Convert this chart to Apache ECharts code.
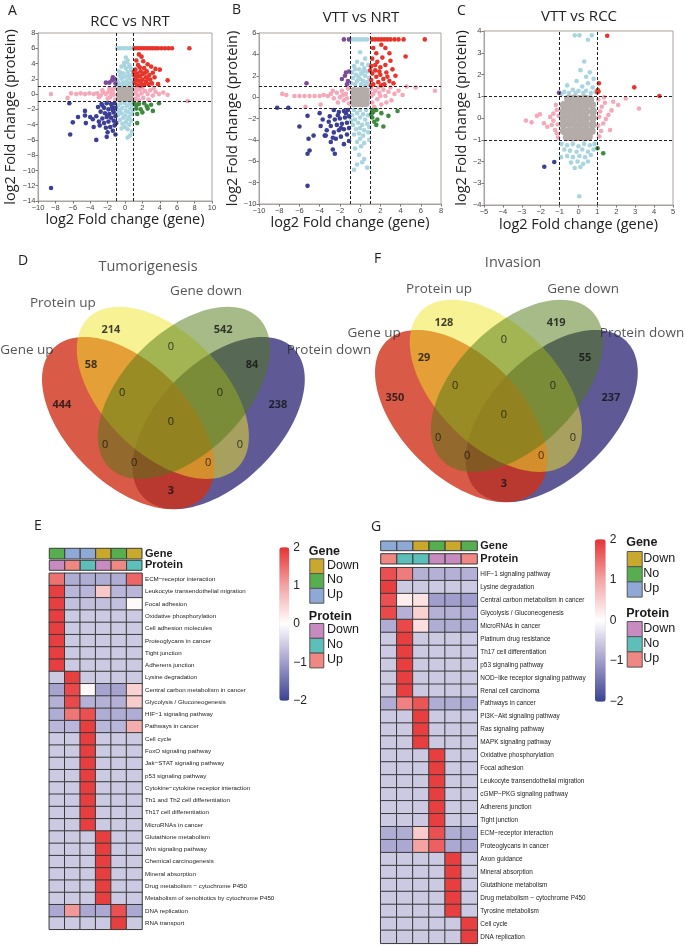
<!DOCTYPE html>
<html><head><meta charset="utf-8">
<script src="https://cdn.jsdelivr.net/npm/echarts@6/dist/echarts.min.js"></script>
<style>html,body{margin:0;padding:0;background:#fff}#c{width:685px;height:946px}</style>
</head><body><div id="c"></div>
<script>
// ---------------- Scatter data (log2 FC gene, log2 FC protein) ----------------
const A_red = [[1.1,6],[1.4,6],[1.7,6],[2.0,6],[2.3,6],[2.6,6],[2.9,6],[3.2,6],[3.5,6],[3.8,6],[4.2,6],[4.6,6],[5.0,6],[5.4,6],[7.4,6],
 [1.6,5.2],[1.9,4.9],[1.3,4.4],[2.1,4.3],[2.6,3.9],[1.5,3.8],[3.0,3.6],[3.5,3.3],[2.2,3.4],[1.2,3.2],[4.0,3.2],[1.8,3.0],[2.5,3.0],[3.2,2.8],[1.4,2.7],[2.0,2.6],[2.8,2.5],[1.1,2.4],[1.7,2.3],[2.4,2.2],[3.4,2.2],[1.3,2.0],[2.0,1.9],[2.9,1.9],[4.9,1.8],[1.6,1.7],[2.4,1.6],[1.1,1.5],[1.9,1.4],[3.1,1.4],[1.4,1.2],[2.2,1.2],[2.7,1.3],[1.2,1.8],[1.8,1.1],[3.8,1.3],[1.5,2.4],[2.6,2.0],[1.0,2.9],[2.3,2.8],[1.7,3.5]];
const A_lightblue = [[-0.9,6],[-0.6,6],[-0.3,6],[0,6],[0.3,6],[0.6,6],[0.9,6],
 [0.1,4.8],[0.3,4.4],[-0.1,4.1],[0.5,3.8],[-0.4,3.6],[0.1,3.4],[0.7,3.2],[-0.7,3.0],[0.3,2.9],[-0.2,2.7],[0.8,2.5],[-0.6,2.4],[0.1,2.3],[0.5,2.1],[-0.4,2.0],[-0.9,1.8],[0.9,1.8],[0.2,1.7],[-0.2,1.5],[0.6,1.5],[-0.7,1.4],[0.3,1.3],[-0.4,1.2],[0.8,1.2],[0.0,1.1],[-0.9,1.1],[0.5,1.1],[-0.2,2.2],[0.4,2.6],[-0.5,2.8],[0.6,3.5],[-0.1,3.8],[0.2,4.2],
 [0.0,-1.2],[-0.5,-1.2],[0.5,-1.3],[-0.8,-1.5],[0.8,-1.5],[0.2,-1.6],[-0.3,-1.8],[0.6,-1.9],[-0.6,-2.1],[0.1,-2.2],[0.4,-2.4],[-0.4,-2.5],[0.8,-2.6],[-0.8,-2.7],[0.0,-2.8],[0.5,-3.0],[-0.2,-3.1],[0.3,-3.3],[-0.6,-3.4],[0.7,-3.5],[0.1,-3.7],[-0.3,-3.9],[0.5,-4.0],[0.0,-4.3],[0.3,-4.6],[-0.4,-4.5],[0.7,-1.1],[-0.9,-2.3],[0.9,-2.1],[0.3,-5.7],[0.6,-5.4],[0.8,-4.9]];
const A_pink = [[-8.5,0],[-6.6,-0.5],[-6.2,0.1],[-5.6,0],[-5.1,0.1],[-4.6,0],[-4.1,0.1],[-3.6,0],[-3.2,0.1],[-2.8,-0.2],[-2.5,0.2],[-2.2,0],[-1.9,0.3],[-1.7,-0.4],[-1.5,0.6],[-1.3,-0.1],[-1.2,0.8],[-1.1,-0.7],[-1.4,0.3],[-2.0,-0.6],[-2.6,0.5],[-1.6,0.1],[-3.0,-0.4],[-1.8,0.7],
 [1.1,0.8],[1.3,0.4],[1.2,-0.6],[1.5,-0.2],[1.7,0.6],[1.9,0.1],[2.1,-0.5],[2.3,0.4],[2.6,0],[2.9,0.5],[3.2,-0.2],[3.5,0.3],[3.9,0],[4.4,0.2],[4.9,-0.1],[1.4,0.9],[1.6,-0.8],[2.0,0.8],[2.7,-0.7],[3.3,0.8],[1.2,0.1],[7.2,-0.9]];
const A_grey = [[-0.65,0.6],[-0.2,0.62],[0.25,0.58],[0.66,0.63],[-0.62,0.15],[-0.18,0.2],[0.22,0.12],[0.64,0.18],[-0.66,-0.28],[-0.2,-0.22],[0.26,-0.3],[0.62,-0.25],[-0.63,-0.62],[-0.22,-0.6],[0.2,-0.65],[0.65,-0.6],[0.0,0.4],[0.02,-0.45],[-0.42,0.0],[0.45,-0.05]];
const A_navy = [[-1.2,-1.2],[-1.6,-1.3],[-2.1,-1.2],[-2.7,-1.3],[-1.1,-1.8],[-1.5,-1.7],[-1.9,-2.0],[-2.4,-1.8],[-3.1,-1.7],[-1.3,-2.4],[-1.8,-2.6],[-2.3,-2.5],[-2.8,-2.3],[-1.1,-2.9],[-1.6,-3.1],[-2.1,-3.0],[-2.6,-3.2],[-3.3,-2.9],[-1.3,-3.5],[-1.9,-3.6],[-2.4,-3.8],[-3.0,-3.6],[-3.7,-3.3],[-1.2,-4.1],[-1.7,-4.3],[-2.2,-4.4],[-2.9,-4.1],[-1.4,-4.8],[-2.0,-5.0],[-1.1,-5.3],[-2.6,-1.5],[-1.4,-2.1],[-2.0,-2.8],[-1.0,-3.8],[-4.5,-3.8],[-4.0,-3.0],[-3.6,-4.3],[-2.1,-5.6],
 [-6.4,-1.2],[-4.6,-2.2],[-6.0,-3.7],[-6.3,-5.3],[-3.3,-6.0],[-8.5,-12.3],[-4.6,-2.8],[-5.4,-3.0]];
const A_purple = [[-1.2,2.0],[-1.4,2.2],[-1.5,1.8],[-1.8,1.5],[-1.1,1.4],[-2.2,1.5]];
const A_green = [[1.1,-1.2],[1.3,-1.5],[1.6,-1.3],[1.3,-1.9],[1.8,-2.0],[2.5,-1.6],[2.6,-1.9],[3.0,-1.4],[3.2,-2.2],[2.0,-2.4],[1.4,-2.6],[3.9,-1.2],[1.4,-3.8],[2.2,-1.2]];

const B_red = [[1.2,5.4],[1.5,5.4],[1.8,5.4],[2.1,5.4],[2.4,5.4],[2.7,5.4],[3.0,5.4],[3.4,5.4],[3.8,5.4],[4.3,5.4],[6.4,5.4],
 [2.1,4.9],[1.3,4.6],[2.5,4.6],[1.6,4.1],[2.9,4.1],[4.5,3.8],[2.2,3.7],[1.2,3.6],[3.0,3.4],[1.7,3.3],[2.5,3.0],[1.1,2.9],[2.0,2.8],[3.2,2.6],[1.5,2.5],[2.6,2.3],[1.2,2.2],[2.0,2.1],[3.5,2.0],[1.6,1.9],[2.3,1.7],[1.1,1.6],[2.9,1.5],[1.8,1.4],[1.3,1.2],[2.4,1.2],[3.3,1.3],[1.0,2.5],[1.5,3.0],[2.7,1.9],[1.9,2.4],[1.1,1.1],[2.1,1.1]];
const B_lightblue = [[-0.8,5.4],[-0.5,5.4],[-0.2,5.4],[0.1,5.4],[0.4,5.4],[0.7,5.4],
 [0.0,4.2],[0.5,3.6],[-0.3,3.3],[0.2,3.1],[0.8,3.0],[-0.6,2.9],[0.4,2.7],[-0.1,2.6],[0.7,2.4],[-0.8,2.3],[0.1,2.2],[-0.4,2.1],[0.5,2.0],[0.9,1.8],[-0.7,1.8],[0.0,1.7],[0.3,1.5],[-0.3,1.5],[0.7,1.4],[-0.9,1.3],[0.1,1.2],[-0.5,1.2],[0.5,1.1],[0.9,1.1],[-0.2,1.9],[0.3,2.4],[-0.5,2.6],
 [0.0,-1.2],[-0.6,-1.2],[0.6,-1.2],[-0.3,-1.5],[0.3,-1.6],[0.8,-1.7],[-0.8,-1.7],[0.0,-1.9],[-0.5,-2.1],[0.5,-2.1],[-0.2,-2.4],[0.2,-2.6],[0.7,-2.5],[-0.7,-2.6],[0.0,-2.9],[-0.4,-3.0],[0.4,-3.1],[0.8,-3.3],[-0.1,-3.4],[-0.6,-3.5],[0.3,-3.6],[0.0,-3.9],[-0.3,-4.2],[0.4,-4.3],[0.9,-4.0],[-0.5,-4.8],[0.1,-4.6],[-0.1,-5.4],[0.4,-5.8],[-0.3,-6.3],[0.2,-6.1],[-0.6,-6.8],[0.7,-6.6],[-0.9,-2.2],[0.9,-2.8]];
const B_pink = [[-7.7,0.3],[-7.3,0.2],[-6.5,0.1],[-6.0,0.1],[-5.5,0.1],[-5.0,0.1],[-4.5,0.1],[-4.0,0.1],[-3.6,0.2],[-3.2,0.1],[-2.9,0.3],[-2.6,-0.1],[-2.3,0.4],[-2.0,0.0],[-1.8,0.6],[-1.6,-0.3],[-1.4,0.3],[-1.2,0.8],[-1.1,-0.6],[-1.3,-0.1],[-1.7,0.2],[-2.2,-0.5],[-3.9,-0.7],[-5.4,-0.9],[-2.7,0.6],
 [1.1,0.8],[1.3,0.3],[1.2,-0.5],[1.5,0.6],[1.7,-0.2],[1.9,0.4],[2.1,-0.7],[2.3,0.7],[2.5,0.1],[2.8,0.5],[3.1,-0.3],[3.4,0.3],[3.8,0.6],[4.2,0.2],[4.6,1.0],[5.5,0.9],[7.4,0.6],[1.4,-0.9],[1.8,0.9],[2.6,-0.5],[3.0,0.9],[1.1,0.1],[2.0,0.1]];
const B_grey = [[-0.62,0.62],[-0.2,0.6],[0.22,0.64],[0.6,0.6],[-0.6,0.2],[-0.22,0.18],[0.2,0.22],[0.63,0.2],[-0.63,-0.22],[-0.18,-0.2],[0.2,-0.18],[0.62,-0.22],[-0.6,-0.62],[-0.2,-0.6],[0.22,-0.63],[0.6,-0.6],[0.0,0.0],[-0.4,0.42],[0.4,-0.4]];
const B_navy = [[-1.2,-1.2],[-1.6,-1.3],[-2.1,-1.4],[-2.6,-1.2],[-1.1,-1.8],[-1.5,-1.9],[-2.0,-2.0],[-2.5,-2.1],[-3.0,-1.8],[-1.3,-2.4],[-1.8,-2.5],[-2.3,-2.6],[-2.9,-2.7],[-1.1,-2.9],[-1.6,-3.0],[-2.1,-3.1],[-2.6,-3.3],[-3.3,-3.1],[-1.3,-3.5],[-1.9,-3.7],[-2.4,-3.9],[-1.1,-4.1],[-2.9,-4.2],[-1.6,-4.4],[-3.5,-3.6],[-1.4,-1.5],[-2.2,-1.7],[-1.9,-2.9],[-3.1,-2.3],[-2.7,-3.8],
 [-8.2,-1.0],[-7.1,-1.0],[-5.2,-1.75],[-4.0,-1.5],[-6.0,-2.75],[-3.9,-2.7],[-4.6,-3.6],[-3.4,-3.6],[-5.1,-3.9],[-5.0,-5.0],[-5.2,-5.3],[-2.7,-4.9],[-2.5,-5.3],[-5.2,-8.3],[-3.7,-2.1]];
const B_purple = [[-1.6,5.4],[-1.1,5.4],[-5.3,1.3],[-1.2,1.5],[-1.5,2.0],[-1.1,2.4],[-1.8,1.7],[-1.3,1.2],[-1.4,2.3]];
const B_green = [[1.2,-1.2],[1.3,-1.4],[1.2,-1.9],[1.6,-1.2],[2.1,-1.5],[2.8,-1.75],[3.7,-1.3],[1.6,-2.6],[2.3,-2.75],[1.7,-2.1],[1.1,-1.6],[1.4,-2.3]];

const C_red = [[1.52,3.78],[1.08,1.6],[1.02,1.28],[1.0,1.18],[1.06,1.22],[2.95,1.41],[4.28,1.01]];
const C_lightblue = [[-0.2,3.8],[0.05,3.8],[0.7,3.8],[0.5,3.6],[0.3,2.6],[0.1,2.2],[0.6,2.1],[0.4,1.9],[0.8,1.8],[-0.1,1.7],[0.5,1.6],[-0.6,1.5],[0.2,1.45],[0.75,1.4],[-0.3,1.3],[0.0,1.25],[0.4,1.25],[-0.75,1.2],[-0.5,1.15],[0.65,1.15],[0.9,1.2],[-0.15,1.15],[0.25,1.15],[-0.9,1.1],
 [-0.9,-1.2],[-0.6,-1.25],[-0.3,-1.2],[0.0,-1.3],[0.3,-1.2],[0.6,-1.25],[0.85,-1.2],[-0.75,-1.45],[-0.45,-1.5],[-0.1,-1.55],[0.2,-1.45],[0.5,-1.55],[0.8,-1.45],[-0.6,-1.75],[-0.3,-1.8],[0.05,-1.75],[0.35,-1.8],[0.65,-1.7],[-0.4,-2.05],[-0.05,-2.0],[0.25,-2.1],[0.5,-2.0],[-0.2,-2.3],[0.1,-2.25],[0.04,-3.6],[-0.93,-1.8]];
const C_pink = [[-2.78,-0.12],[-2.48,-0.2],[-2.2,0.1],[-2.04,0.17],[-1.83,-0.24],[-1.65,-0.4],[-1.42,-0.32],[-1.33,-0.12],[-1.24,-0.55],[-1.15,-0.7],[-1.33,0.2],[-1.15,0.37],[-1.5,0.05],[-1.1,-0.3],[-1.05,0.1],[-1.2,0.6],[-1.08,-0.9],
 [1.1,0.06],[1.23,0.52],[1.58,0.14],[1.67,-0.55],[1.31,-0.25],[1.84,0.75],[3.2,0.44],[1.05,0.85],[1.15,0.3],[1.4,0.7],[1.45,-0.05],[1.2,-0.6],[1.05,-0.35],[1.75,0.35],[2.1,0.6],[1.35,0.95],[1.1,-0.85],[2.5,0.9]];
const C_grey = [[-0.55,0.88],[-0.25,0.9],[0.05,0.87],[0.35,0.9],[0.62,0.86],
 [-0.78,0.6],[-0.5,0.62],[-0.2,0.58],[0.1,0.61],[0.4,0.59],[0.72,0.6],
 [-0.8,0.3],[-0.5,0.32],[-0.2,0.28],[0.1,0.31],[0.4,0.29],[0.76,0.3],
 [-0.82,0.0],[-0.52,0.02],[-0.22,-0.01],[0.08,0.01],[0.38,-0.02],[0.76,0.0],
 [-0.8,-0.3],[-0.5,-0.28],[-0.2,-0.31],[0.1,-0.29],[0.4,-0.3],[0.74,-0.3],
 [-0.78,-0.6],[-0.48,-0.61],[-0.18,-0.58],[0.12,-0.6],[0.42,-0.62],[0.7,-0.6],
 [-0.62,-0.88],[-0.32,-0.9],[-0.02,-0.87],[0.28,-0.9],[0.55,-0.86]];
const C_purple = [[-1.03,1.16]];
const C_navy = [[-1.81,-2.24],[-1.28,-2.02]];
const C_green = [[1.01,-1.39],[1.31,-1.62]];

const thresholds = [-1, 1];
const scatterTitles = ['RCC vs NRT', 'VTT vs NRT', 'VTT vs RCC'];
const xTitle = 'log2 Fold change (gene)';
const yTitle = 'log2 Fold change (protein)';

// ---------------- Venn data ----------------
const setNames = ['Gene up', 'Protein up', 'Gene down', 'Protein down'];
const vennTitles = ['Tumorigenesis', 'Invasion'];
const D_counts = [214, 542, 0, 58, 84, 444, 238, 0, 0, 0, 0, 0, 0, 0, 3];
const F_counts = [128, 419, 0, 29, 55, 350, 237, 0, 0, 0, 0, 0, 0, 0, 3];

// ---------------- Heatmap data ----------------
const E_rows = ["ECM−receptor interaction","Leukocyte transendothelial migration","Focal adhesion","Oxidative phosphorylation","Cell adhesion molecules","Proteoglycans in cancer","Tight junction","Adherens junction","Lysine degradation","Central carbon metabolism in cancer","Glycolysis / Gluconeogenesis","HIF−1 signaling pathway","Pathways in cancer","Cell cycle","FoxO signaling pathway","Jak−STAT signaling pathway","p53 signaling pathway","Cytokine−cytokine receptor interaction","Th1 and Th2 cell differentiation","Th17 cell differentiation","MicroRNAs in cancer","Glutathione metabolism","Wnt signaling pathway","Chemical carcinogenesis","Mineral absorption","Drug metabolism − cytochrome P450","Metabolism of xenobiotics by cytochrome P450","DNA replication","RNA transport"];
const E_gene = ['No','Up','Up','Down','No','Down'];
const E_protein = ['Down','Up','No','Down','Up','No'];
const E_values = [
 [1.45,-0.85,-0.85,-0.85,-0.85,1.55],
 [1.9,-0.75,-0.75,0.6,-0.75,-0.75],
 [1.9,-0.65,-0.65,-0.65,-0.65,0.05],
 [1.9,-0.55,-0.55,-0.55,-0.55,-0.55],
 [1.9,-0.55,-0.55,-0.55,-0.55,-0.55],
 [1.9,-0.55,-0.55,-0.55,-0.55,-0.55],
 [1.9,-0.55,-0.55,-0.55,-0.55,-0.55],
 [1.9,-0.55,-0.55,-0.55,-0.55,-0.55],
 [-0.55,1.9,-0.55,-0.55,-0.55,-0.55],
 [-0.95,1.8,0.08,-0.95,-0.95,0.5],
 [-0.8,1.8,-0.8,-0.8,-0.8,0.55],
 [-0.85,1.4,1.75,-0.85,-0.85,-0.85],
 [-0.75,-0.75,1.9,-0.75,-0.75,0.9],
 [-0.55,-0.55,1.9,-0.55,-0.55,-0.55],
 [-0.55,-0.55,1.9,-0.55,-0.55,-0.55],
 [-0.55,-0.55,1.9,-0.55,-0.55,-0.55],
 [-0.55,-0.55,1.9,-0.55,-0.55,-0.55],
 [-0.55,-0.55,1.9,-0.55,-0.55,-0.55],
 [-0.55,-0.55,1.9,-0.55,-0.55,-0.55],
 [-0.55,-0.55,1.9,-0.55,-0.55,-0.55],
 [-0.55,-0.55,1.9,-0.55,-0.55,-0.55],
 [-0.55,-0.55,-0.55,1.9,-0.55,-0.55],
 [-0.55,-0.55,-0.55,1.9,-0.55,-0.55],
 [-0.55,-0.55,-0.55,1.9,-0.55,-0.55],
 [-0.55,-0.55,-0.55,1.9,-0.55,-0.55],
 [-0.55,-0.55,-0.55,1.9,-0.55,-0.55],
 [-0.55,-0.55,-0.55,1.9,-0.55,-0.55],
 [-0.9,1.1,-0.9,-0.9,1.75,-0.9],
 [-0.55,-0.55,-0.55,-0.55,1.9,-0.55]
];
const G_rows = ["HIF−1 signaling pathway","Lysine degradation","Central carbon metabolism in cancer","Glycolysis / Gluconeogenesis","MicroRNAs in cancer","Platinum drug resistance","Th17 cell differentiation","p53 signaling pathway","NOD−like receptor signaling pathway","Renal cell carcinoma","Pathways in cancer","PI3K−Akt signaling pathway","Ras signaling pathway","MAPK signaling pathway","Oxidative phosphorylation","Focal adhesion","Leukocyte transendothelial migration","cGMP−PKG signaling pathway","Adherens junction","Tight junction","ECM−receptor interaction","Proteoglycans in cancer","Axon guidance","Mineral absorption","Glutathione metabolism","Drug metabolism − cytochrome P450","Tyrosine metabolism","Cell cycle","DNA replication"];
const G_gene = ['Up','Up','Down','No','Down','No'];
const G_protein = ['Up','No','No','Down','Down','Up'];
const G_values = [
 [1.75,1.35,-0.8,-0.8,-0.8,-0.8],
 [1.9,-0.55,-0.55,-0.55,-0.55,-0.55],
 [1.75,0.2,0.3,-1.0,-1.0,-1.0],
 [1.8,-0.8,0.5,-0.8,-0.8,-0.8],
 [-0.85,1.8,0.35,-0.85,-0.85,-0.85],
 [-0.55,1.9,-0.55,-0.55,-0.55,-0.55],
 [-0.55,1.9,-0.55,-0.55,-0.55,-0.55],
 [-0.55,1.9,-0.55,-0.55,-0.55,-0.55],
 [-0.55,1.9,-0.55,-0.55,-0.55,-0.55],
 [-0.55,1.9,-0.55,-0.55,-0.55,-0.55],
 [-0.85,1.3,1.7,-0.85,-0.85,-0.85],
 [-0.55,-0.55,1.9,-0.55,-0.55,-0.55],
 [-0.55,-0.55,1.9,-0.55,-0.55,-0.55],
 [-0.55,-0.55,1.9,-0.55,-0.55,-0.55],
 [-0.55,-0.55,-0.55,1.9,-0.55,-0.55],
 [-0.55,-0.55,-0.55,1.9,-0.55,-0.55],
 [-0.55,-0.55,-0.55,1.9,-0.55,-0.55],
 [-0.55,-0.55,-0.55,1.9,-0.55,-0.55],
 [-0.55,-0.55,-0.55,1.9,-0.55,-0.55],
 [-0.55,-0.55,-0.55,1.9,-0.55,-0.55],
 [-0.85,-0.85,0.55,1.75,-0.85,-0.85],
 [-0.9,-0.9,1.0,1.6,-0.9,-0.9],
 [-0.55,-0.55,-0.55,-0.55,1.9,-0.55],
 [-0.55,-0.55,-0.55,-0.55,1.9,-0.55],
 [-0.55,-0.55,-0.55,-0.55,1.9,-0.55],
 [-0.55,-0.55,-0.55,-0.55,1.9,-0.55],
 [-0.55,-0.55,-0.55,-0.55,1.9,-0.55],
 [-0.55,-0.55,-0.55,-0.55,-0.55,1.9],
 [-0.55,-0.55,-0.55,-0.55,-0.55,1.9]
];
const levels = ['Down','No','Up'];
const colorbarTicks = [-2, -1, 0, 1, 2];

// ---------------- Styles / layout ----------------
const FONT = 'Open Sans';
const AFONT = 'Liberation Sans';
const groupStyle = {
  pink:{color:'#f5a8b9', size:4.6}, lightblue:{color:'#a9d5e0', size:4.6}, grey:{color:'#b4aca9', size:6},
  navy:{color:'#3b3f95', size:4.6}, purple:{color:'#7b4b9c', size:4.6}, green:{color:'#3f8b3d', size:4.6}, red:{color:'#e8352b', size:4.6}
};
const groupOrder = ['pink','lightblue','grey','navy','purple','green','red'];
const plots = [
  {groups:{pink:A_pink,lightblue:A_lightblue,grey:A_grey,navy:A_navy,purple:A_purple,green:A_green,red:A_red},
   grid:{left:38,top:33,width:174,height:168}, x:[-10,10,2], y:[-14,8,2], greySize:6, xGap:11, yGap:20},
  {groups:{pink:B_pink,lightblue:B_lightblue,grey:B_grey,navy:B_navy,purple:B_purple,green:B_green,red:B_red},
   grid:{left:259,top:33,width:182,height:171}, x:[-10,8,2], y:[-10,6,2], greySize:7, xGap:11, yGap:16},
  {groups:{pink:C_pink,lightblue:C_lightblue,grey:C_grey,navy:C_navy,purple:C_purple,green:C_green,red:C_red},
   grid:{left:484,top:31,width:189,height:174}, x:[-5,5,1], y:[-4,4,1], greySize:8, xGap:12, yGap:14}
];
const vennFrames = [{left:22.4, top:263, size:302}, {left:355.4, top:256, size:302}];
const vennEllipses = [[0.65,0.47,0.35,0.2,45],[0.35,0.47,0.35,0.2,-45],[0.465,0.57,0.35,0.2,-45],[0.535,0.57,0.35,0.2,45]];
const vennFills = ['rgba(55,49,124,0.8)','rgba(208,49,24,0.8)','rgba(240,230,40,0.5)','rgba(80,120,20,0.5)'];
const vennCountPos = [[0.293,0.778],[0.665,0.778],[0.492,0.722],[0.227,0.662],[0.76,0.662],[0.131,0.53],[0.846,0.53],[0.33,0.57],[0.654,0.57],[0.492,0.474],[0.274,0.397],[0.72,0.397],[0.37,0.338],[0.615,0.338],[0.492,0.245]];
const vennNamePos = [
  [[0.015,0.712],[0.134,0.868],[0.608,0.907],[1.015,0.712],[0.416,0.987]],
  [[0.062,0.745],[0.277,0.891],[0.754,0.891],[0.949,0.745],[0.522,0.977]]
];
const geneColors = {Down:'#c9a82e', No:'#57ae4f', Up:'#8fa9d7'};
const protColors = {Down:'#c88bc0', No:'#5dbfba', Up:'#ef8783'};
const heatColors = ['#3a4392','#a29ecc','#ffffff','#f4a3a3','#e63335'];
const heatLayouts = [
  {x:49.3, w:92.7, geneTop:548.3, geneH:10.7, protTop:560.3, protH:10, mainTop:573.3, mainH:356, cbar:{left:279.3,top:547.3,w:10,h:153.4}, rowFont:6.2,
   leg:{x:309.3, w:14, geneY:552, geneBox:558.3, protY:617, protBox:623, bh:14.8, tx:327}},
  {x:380.7, w:96.6, geneTop:541, geneH:9.7, protTop:553.7, protH:10.3, mainTop:567.7, mainH:375.6, cbar:{left:595,top:539.3,w:10.7,h:162.4}, rowFont:6.4,
   leg:{x:626.7, w:15, geneY:543.3, geneBox:551, protY:614, protBox:621, bh:15.2, tx:643.3}}
];

const minus = v => String(v).replace('-', '−');

// ---------------- Build option ----------------
const grids = [], xAxes = [], yAxes = [], series = [], graphics = [], visualMaps = [];

plots.forEach((p, i) => {
  grids.push(Object.assign({show:true, borderColor:'#a9a29e', borderWidth:1, backgroundColor:'transparent'}, p.grid));
  const axisCommon = {type:'value', axisLine:{show:true, onZero:false, lineStyle:{color:'#a9a29e'}}, axisTick:{show:true, length:2.5, lineStyle:{color:'#777'}},
    axisLabel:{fontSize:7.5, color:'#444', margin:2.5, formatter:minus, fontFamily:AFONT}, splitLine:{show:false}, nameLocation:'middle',
    nameTextStyle:{fontSize:14.5, color:'#222', fontFamily:FONT}};
  xAxes.push(Object.assign({}, axisCommon, {gridIndex:i, min:p.x[0], max:p.x[1], interval:p.x[2], name:xTitle, nameGap:p.xGap}));
  yAxes.push(Object.assign({}, axisCommon, {gridIndex:i, min:p.y[0], max:p.y[1], interval:p.y[2], name:yTitle, nameGap:p.yGap}));
  groupOrder.forEach(g => {
    const s = {type:'scatter', xAxisIndex:i, yAxisIndex:i, data:p.groups[g], symbolSize: g==='grey'? p.greySize : groupStyle[g].size,
      itemStyle:{color:groupStyle[g].color, opacity:1}, silent:true};
    if (g === 'red') {
      s.markLine = {silent:true, symbol:['none','none'], label:{show:false}, lineStyle:{type:[3,2], color:'#222', width:1},
        data: thresholds.map(t => ({xAxis:t})).concat(thresholds.map(t => ({yAxis:t})))};
    }
    series.push(s);
  });
});

function vennRender(params, api) {
  const cx = api.value(0), cy = api.value(1), a = api.value(2), b = api.value(3), r = api.value(4) * Math.PI / 180;
  const pts = [];
  for (let k = 0; k < 120; k++) {
    const t = k / 120 * 2 * Math.PI, ex = a * Math.cos(t), ey = b * Math.sin(t);
    pts.push(api.coord([cx + ex * Math.cos(r) - ey * Math.sin(r), cy + ex * Math.sin(r) + ey * Math.cos(r)]));
  }
  return {type:'polygon', shape:{points:pts}, style:{fill:vennFills[params.dataIndex]}};
}
[D_counts, F_counts].forEach((counts, v) => {
  const gi = 3 + v, f = vennFrames[v];
  grids.push({left:f.left, top:f.top, width:f.size, height:f.size});
  xAxes.push({gridIndex:gi, type:'value', min:0, max:1, show:false});
  yAxes.push({gridIndex:gi, type:'value', min:0, max:1, show:false});
  series.push({type:'custom', xAxisIndex:gi, yAxisIndex:gi, renderItem:vennRender, data:vennEllipses, silent:true, clip:false});
  series.push({type:'scatter', xAxisIndex:gi, yAxisIndex:gi, clip:false, silent:true, symbolSize:1, itemStyle:{color:'transparent'}, z:5,
    label:{show:true, position:'inside', fontSize:11, color:'#111', fontFamily:FONT},
    data: counts.map((c, k) => ({value:vennCountPos[k], label:{formatter:String(c), fontWeight: c ? 'bold' : 'normal'}}))});
  const names = setNames.concat([vennTitles[v]]);
  series.push({type:'scatter', xAxisIndex:gi, yAxisIndex:gi, clip:false, silent:true, symbolSize:1, itemStyle:{color:'transparent'}, z:5,
    label:{show:true, position:'inside', fontSize:13.5, color:'#2a2a2a', fontFamily:FONT},
    data: names.map((n, k) => ({value:vennNamePos[v][k], label:{formatter:n, fontSize: k === 4 ? 14.5 : 13.5}}))});
});

function annoRender(colors) {
  return function (params, api) {
    const p = api.coord([api.value(0), api.value(1)]), s = api.size([1, 1]);
    return {type:'rect', shape:{x:p[0]-s[0]/2, y:p[1]-s[1]/2, width:s[0], height:s[1]},
      style:{fill:colors[levels[api.value(2)]], stroke:'#3a3a3a', lineWidth:1}};
  };
}
const heatSets = [
  {rows:E_rows, gene:E_gene, prot:E_protein, vals:E_values},
  {rows:G_rows, gene:G_gene, prot:G_protein, vals:G_values}
];
const cols = [0,1,2,3,4,5];
heatSets.forEach((h, k) => {
  const L = heatLayouts[k];
  const base = grids.length;
  grids.push({left:L.x, top:L.geneTop, width:L.w, height:L.geneH});
  grids.push({left:L.x, top:L.protTop, width:L.w, height:L.protH});
  grids.push({left:L.x, top:L.mainTop, width:L.w, height:L.mainH});
  grids.push({left:L.cbar.left, top:L.cbar.top, width:L.cbar.w, height:L.cbar.h});
  const rowAxis = (gi, data, style) => ({gridIndex:gi, type:'category', data:data, inverse:true, position:'right',
    axisLine:{show:false}, axisTick:{show:false}, splitLine:{show:false}, axisLabel:Object.assign({interval:0, margin:3, color:'#1a1a1a', fontFamily:AFONT}, style)});
  for (let j = 0; j < 3; j++) xAxes.push({gridIndex:base+j, type:'category', data:cols, show:false});
  yAxes.push(rowAxis(base, ['Gene'], {fontSize:11, fontWeight:'bold'}));
  yAxes.push(rowAxis(base+1, ['Protein'], {fontSize:11, fontWeight:'bold'}));
  yAxes.push(rowAxis(base+2, h.rows, {fontSize:L.rowFont, color:'#222'}));
  xAxes.push({gridIndex:base+3, type:'value', show:false});
  yAxes.push({gridIndex:base+3, type:'value', min:colorbarTicks[0], max:colorbarTicks[colorbarTicks.length-1], interval:1, position:'right',
    axisLine:{show:false}, axisTick:{show:false}, splitLine:{show:false}, axisLabel:{fontSize:12, margin:4, color:'#222', fontFamily:AFONT, formatter:minus}});
  series.push({type:'custom', xAxisIndex:base, yAxisIndex:base, renderItem:annoRender(geneColors), silent:true,
    data:h.gene.map((g, c) => [c, 0, levels.indexOf(g)])});
  series.push({type:'custom', xAxisIndex:base+1, yAxisIndex:base+1, renderItem:annoRender(protColors), silent:true,
    data:h.prot.map((g, c) => [c, 0, levels.indexOf(g)])});
  const hd = [];
  h.vals.forEach((row, r) => row.forEach((v, c) => hd.push([c, r, v])));
  series.push({type:'heatmap', xAxisIndex:base+2, yAxisIndex:base+2, data:hd, silent:true,
    itemStyle:{borderColor:'#3a3a3a', borderWidth:1}});
  visualMaps.push({type:'continuous', seriesIndex:series.length-1, min:-2, max:2, left:L.cbar.left, top:L.cbar.top,
    itemWidth:L.cbar.w, itemHeight:L.cbar.h, padding:0, calculable:false, inRange:{color:heatColors}, textStyle:{fontSize:0}});
  const lg = L.leg;
  const addLegend = (title, ty, boxTop, colors) => {
    graphics.push({type:'text', left:lg.x - 0.5, top:ty - 7, style:{text:title, font:'bold 12.5px "Liberation Sans"', fill:'#1a1a1a'}});
    levels.forEach((lv, n) => {
      graphics.push({type:'rect', left:lg.x, top:boxTop + n*lg.bh, shape:{width:lg.w, height:lg.bh}, style:{fill:colors[lv], stroke:'#555', lineWidth:1}});
      graphics.push({type:'text', left:lg.tx, top:boxTop + n*lg.bh + lg.bh/2 - 7, style:{text:lv, font:'12.5px "Liberation Sans"', fill:'#1a1a1a'}});
    });
  };
  addLegend('Gene', lg.geneY, lg.geneBox, geneColors);
  addLegend('Protein', lg.protY, lg.protBox, protColors);
});

const panelLetters = [['A',8,4],['B',232,3],['C',457,4],['D',18,254],['F',374,252],['E',34,519],['G',371,520]];
panelLetters.forEach(l => graphics.push({type:'text', left:l[1], top:l[2], style:{text:l[0], font:'14px "Open Sans"', fill:'#222'}}));
const titleCenters = [[130,22],[361,18],[579,17]];
scatterTitles.forEach((t, i) => graphics.push({type:'text', x:titleCenters[i][0], y:titleCenters[i][1],
  style:{text:t, font:'15px "Open Sans"', fill:'#222', align:'center', verticalAlign:'middle'}}));

const chart = echarts.init(document.getElementById('c'));
chart.setOption({animation:false, backgroundColor:'#fff', grid:grids, xAxis:xAxes, yAxis:yAxes, series:series, visualMap:visualMaps, graphic:graphics});
</script></body></html>
